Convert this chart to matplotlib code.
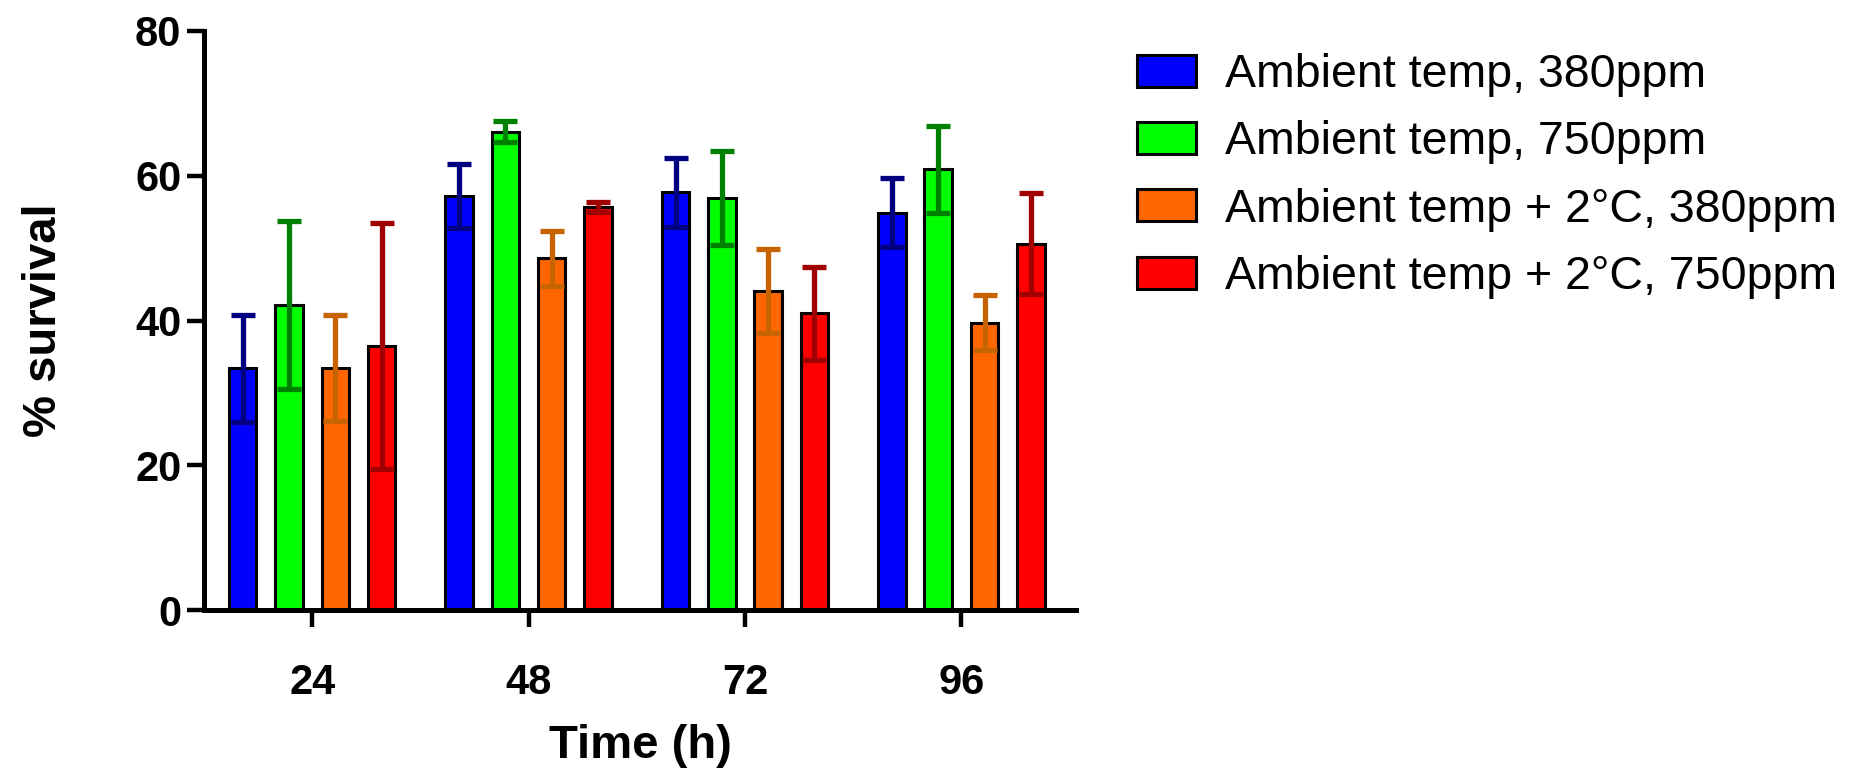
import matplotlib
matplotlib.use("Agg")
import matplotlib.pyplot as plt
import numpy as np
from matplotlib.patches import Patch

plt.rcParams['font.family'] = ['Liberation Sans', 'DejaVu Sans']

# === Data ===
times = ["24", "48", "72", "96"]
labels = [
    "Ambient temp, 380ppm",
    "Ambient temp, 750ppm",
    "Ambient temp + 2°C, 380ppm",
    "Ambient temp + 2°C, 750ppm",
]
amb_380 = [33.4, 57.2, 57.7, 54.9]
amb_380_err = [7.4, 4.4, 4.8, 4.8]
amb_750 = [42.1, 66.1, 56.9, 60.9]
amb_750_err = [11.6, 1.5, 6.5, 6.0]
warm_380 = [33.4, 48.6, 44.1, 39.7]
warm_380_err = [7.3, 3.8, 5.8, 3.8]
warm_750 = [36.5, 55.7, 41.0, 50.6]
warm_750_err = [17.0, 0.7, 6.4, 7.0]

series = [amb_380, amb_750, warm_380, warm_750]
errors = [amb_380_err, amb_750_err, warm_380_err, warm_750_err]
bar_colors = ["#0000FF", "#00FF00", "#FF6600", "#FF0000"]
err_colors = ["#000080", "#008000", "#C86400", "#A00000"]

fig = plt.figure(figsize=(18.75, 7.71), dpi=100)
ax = fig.add_axes([0.1088, 0.2088, 0.4651, 0.751])

x = np.arange(len(times))
width = 0.127
step = 0.214
for i, (vals, err) in enumerate(zip(series, errors)):
    pos = x + (i - 1.5) * step
    ax.bar(pos, vals, width, color=bar_colors[i], edgecolor="black",
           linewidth=2.2, zorder=2)
    ax.errorbar(pos, vals, yerr=err, fmt="none", ecolor=err_colors[i],
                elinewidth=3.8, capsize=8.5, capthick=3.8, zorder=3)

ax.set_xlim(-0.5, 3.53)
ax.set_ylim(0, 80)
ax.spines["top"].set_visible(False)
ax.spines["right"].set_visible(False)
for s in ["left", "bottom"]:
    ax.spines[s].set_linewidth(3.6)

ax.set_yticks([0, 20, 40, 60, 80])
ax.set_xticks(x, times)
ax.tick_params(axis="both", width=3.2, length=12, labelsize=30)
ax.tick_params(axis="x", pad=26.5)
ax.tick_params(axis="y", pad=4.3)
for lbl in ax.get_xticklabels() + ax.get_yticklabels():
    lbl.set_fontweight("bold")

ax.set_xlabel("Time (h)", fontsize=34, fontweight="bold", labelpad=14.5)
ax.set_ylabel("% survival", fontsize=34, fontweight="bold", labelpad=50)

handles = [Patch(facecolor=c, edgecolor="black", linewidth=2.2) for c in bar_colors]
fig.legend(handles, labels, loc="upper left", bbox_to_anchor=(0.6064, 0.931),
           frameon=False, fontsize=33.5, handlelength=1.26, handleheight=0.68,
           handletextpad=0.64, labelspacing=0.5, borderpad=0, borderaxespad=0)

fig.savefig("out.png", dpi=100)
